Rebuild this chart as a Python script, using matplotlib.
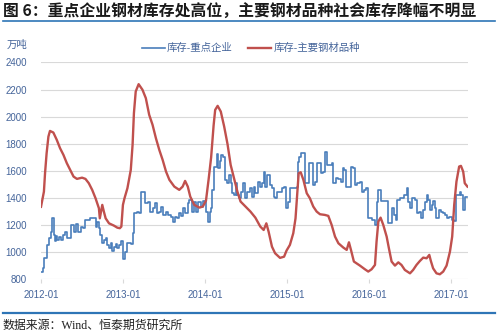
import matplotlib
matplotlib.use("Agg")
import matplotlib.pyplot as plt
import matplotlib.dates as mdates
from matplotlib.lines import Line2D
import pandas as pd

plt.rcParams["font.family"] = ["Liberation Sans", "Noto Sans CJK SC", "DejaVu Sans"]

# 库存-主要钢材品种 (weekly social inventory, 万吨)
social_dates = [
    "2012-01-01", "2012-01-07", "2012-01-14", "2012-01-19", "2012-01-26", "2012-02-03",
    "2012-02-10", "2012-02-25", "2012-03-11", "2012-03-26", "2012-04-10", "2012-04-25",
    "2012-05-10", "2012-05-25", "2012-06-09", "2012-07-02", "2012-07-17", "2012-08-01",
    "2012-08-16", "2012-08-31", "2012-09-15", "2012-09-19", "2012-09-30", "2012-10-07",
    "2012-10-15", "2012-10-30", "2012-11-21", "2012-12-06", "2012-12-17", "2012-12-24",
    "2012-12-31", "2013-01-07", "2013-01-20", "2013-02-04", "2013-02-12", "2013-02-18",
    "2013-02-26", "2013-03-11", "2013-03-28", "2013-04-12", "2013-04-27", "2013-05-12",
    "2013-05-27", "2013-06-11", "2013-06-26", "2013-07-11", "2013-07-26", "2013-08-17",
    "2013-09-08", "2013-09-23", "2013-10-04", "2013-10-16", "2013-10-27", "2013-11-14",
    "2013-12-07", "2013-12-22", "2014-01-05", "2014-01-17", "2014-01-28", "2014-02-08",
    "2014-02-15", "2014-02-26", "2014-03-12", "2014-03-27", "2014-04-11", "2014-04-25",
    "2014-05-10", "2014-05-25", "2014-06-08", "2014-06-30", "2014-07-22", "2014-08-13",
    "2014-09-04", "2014-09-19", "2014-10-01", "2014-10-11", "2014-10-26", "2014-11-09",
    "2014-12-01", "2014-12-19", "2014-12-30", "2015-01-14", "2015-01-29", "2015-02-08",
    "2015-02-15", "2015-02-22", "2015-03-03", "2015-03-15", "2015-03-30", "2015-04-13",
    "2015-04-28", "2015-05-13", "2015-05-28", "2015-06-19", "2015-07-04", "2015-07-19",
    "2015-08-03", "2015-08-18", "2015-09-09", "2015-09-24", "2015-10-04", "2015-10-13",
    "2015-10-26", "2015-11-22", "2015-12-14", "2015-12-29", "2016-01-13", "2016-01-28",
    "2016-02-04", "2016-02-12", "2016-02-22", "2016-03-05", "2016-03-20", "2016-03-30",
    "2016-04-11", "2016-04-26", "2016-05-11", "2016-05-25", "2016-06-09", "2016-07-02",
    "2016-07-16", "2016-07-31", "2016-08-15", "2016-08-30", "2016-09-14", "2016-09-26",
    "2016-10-03", "2016-10-13", "2016-10-28", "2016-11-12", "2016-11-27", "2016-12-12",
    "2016-12-27", "2017-01-06", "2017-01-15", "2017-01-25", "2017-02-06", "2017-02-14",
    "2017-02-24", "2017-03-03", "2017-03-15",
]
social_values = [
    1335, 1386, 1447, 1583, 1730, 1853,
    1895, 1883, 1830, 1767, 1718, 1657,
    1607, 1558, 1541, 1550, 1541, 1509,
    1460, 1398, 1324, 1250, 1349, 1300,
    1250, 1213, 1196, 1181, 1177, 1189,
    1349, 1398, 1472, 1607, 1792, 2026,
    2186, 2240, 2199, 2137, 2014, 1940,
    1841, 1755, 1681, 1595, 1534, 1484,
    1460, 1484, 1526, 1484, 1410, 1349,
    1329, 1337, 1380, 1540, 1700, 1935,
    2050, 2080, 2038, 1928, 1798, 1644,
    1546, 1447, 1374, 1337, 1300, 1255,
    1189, 1164, 1213, 1152, 1041, 992,
    958, 967, 1012, 1054, 1140, 1250,
    1420, 1583, 1590, 1534, 1435, 1398,
    1337, 1300, 1280, 1275, 1268, 1201,
    1115, 1066, 1034, 1017, 1073, 1017,
    931, 901, 874, 857, 874, 906,
    1078, 1226, 1255, 1201, 1115, 1029,
    931, 901, 925, 906, 869, 844,
    869, 906, 935, 960, 955, 980,
    935, 881, 844, 837, 857, 901,
    1004, 1115, 1349, 1521, 1632, 1637,
    1595, 1509, 1484,
]

# 库存-重点企业 (ten-day survey, drawn as steps, 万吨)
key_dates = [
    "2012-01-01", "2012-01-08", "2012-01-16", "2012-01-29", "2012-02-06", "2012-02-15",
    "2012-02-18", "2012-02-27", "2012-03-04", "2012-03-08", "2012-03-14", "2012-03-22",
    "2012-03-31", "2012-04-09", "2012-04-18", "2012-04-25", "2012-05-15", "2012-05-29",
    "2012-06-05", "2012-06-14", "2012-06-26", "2012-07-05", "2012-07-14", "2012-08-08",
    "2012-08-31", "2012-09-07", "2012-09-15", "2012-09-22", "2012-09-30", "2012-10-07",
    "2012-10-15", "2012-10-22", "2012-10-30", "2012-11-06", "2012-11-14", "2012-11-21",
    "2012-11-29", "2012-12-06", "2012-12-14", "2012-12-21", "2012-12-31", "2013-01-10",
    "2013-01-20", "2013-02-04", "2013-02-12", "2013-02-20", "2013-03-04", "2013-03-12",
    "2013-03-21", "2013-04-08", "2013-04-20", "2013-05-02", "2013-05-12", "2013-05-23",
    "2013-05-31", "2013-06-11", "2013-06-18", "2013-06-29", "2013-07-11", "2013-07-21",
    "2013-08-02", "2013-08-13", "2013-08-20", "2013-08-29", "2013-09-08", "2013-09-16",
    "2013-09-23", "2013-10-05", "2013-10-16", "2013-10-23", "2013-11-02", "2013-11-14",
    "2013-11-23", "2013-12-02", "2013-12-14", "2013-12-21", "2014-01-03", "2014-01-13",
    "2014-01-22", "2014-01-27", "2014-02-01", "2014-02-08", "2014-02-23", "2014-03-01",
    "2014-03-09", "2014-03-15", "2014-03-24", "2014-03-30", "2014-04-08", "2014-04-18",
    "2014-04-25", "2014-05-03", "2014-05-10", "2014-05-17", "2014-05-25", "2014-06-01",
    "2014-06-08", "2014-06-20", "2014-06-27", "2014-07-08", "2014-07-19", "2014-07-27",
    "2014-08-06", "2014-08-13", "2014-08-24", "2014-09-01", "2014-09-12", "2014-09-19",
    "2014-09-26", "2014-10-04", "2014-10-18", "2014-10-26", "2014-11-02", "2014-11-09",
    "2014-11-17", "2014-12-08", "2014-12-19", "2014-12-28", "2015-01-07", "2015-01-14",
    "2015-02-13", "2015-02-18", "2015-02-25", "2015-03-03", "2015-03-22", "2015-04-10",
    "2015-04-28", "2015-05-06", "2015-05-13", "2015-05-31", "2015-06-09", "2015-06-19",
    "2015-06-27", "2015-07-19", "2015-07-26", "2015-08-07", "2015-08-18", "2015-08-29",
    "2015-09-06", "2015-09-13", "2015-09-21", "2015-10-11", "2015-10-20", "2015-10-31",
    "2015-11-10", "2015-11-22", "2015-11-29", "2015-12-10", "2015-12-19", "2015-12-26",
    "2016-01-13", "2016-01-28", "2016-02-06", "2016-02-12", "2016-02-24", "2016-03-12",
    "2016-03-26", "2016-04-14", "2016-04-23", "2016-04-29", "2016-05-06", "2016-05-18",
    "2016-05-28", "2016-06-06", "2016-06-17", "2016-06-24", "2016-07-02", "2016-07-12",
    "2016-07-24", "2016-07-31", "2016-08-11", "2016-08-22", "2016-08-30", "2016-09-06",
    "2016-09-14", "2016-09-21", "2016-09-29", "2016-10-06", "2016-10-13", "2016-10-21",
    "2016-10-28", "2016-11-08", "2016-11-17", "2016-11-24", "2016-12-04", "2016-12-12",
    "2016-12-22", "2017-01-03", "2017-01-15", "2017-01-25", "2017-02-09", "2017-02-16",
    "2017-02-24", "2017-03-03", "2017-03-15",
]
key_values = [
    852, 881, 960, 1054, 1103, 1152,
    1250, 1127, 1083, 1122, 1090, 1115,
    1090, 1127, 1147, 1103, 1201, 1152,
    1206, 1152, 1189, 1177, 1238, 1250,
    1189, 1226, 1177, 1127, 1066, 1090,
    1103, 1054, 1029, 1066, 1009, 1041,
    1058, 1034, 1054, 1083, 950, 1003,
    1069, 1064, 1138, 1286, 1298, 1286,
    1447, 1361, 1373, 1298, 1323, 1361,
    1292, 1298, 1336, 1274, 1298, 1274,
    1262, 1225, 1262, 1249, 1286, 1267,
    1323, 1292, 1361, 1385, 1298, 1373,
    1298, 1373, 1337, 1378, 1300, 1220,
    1300, 1324, 1460, 1632, 1723, 1620,
    1674, 1718, 1706, 1534, 1509, 1570,
    1509, 1435, 1423, 1509, 1423, 1398,
    1447, 1509, 1398, 1447, 1477, 1410,
    1484, 1435, 1521, 1484, 1509, 1590,
    1484, 1570, 1497, 1472, 1410, 1398,
    1447, 1472, 1484, 1324, 1374, 1472,
    1484, 1669, 1706, 1735, 1509, 1657,
    1497, 1521, 1657, 1583, 1595, 1743,
    1644, 1657, 1509, 1546, 1541, 1521,
    1620, 1607, 1484, 1632, 1620, 1497,
    1509, 1521, 1442, 1460, 1472, 1250,
    1240, 1201, 1374, 1460, 1380, 1376,
    1213, 1324, 1275, 1238, 1386, 1403,
    1398, 1423, 1472, 1374, 1329, 1398,
    1386, 1287, 1300, 1250, 1312, 1374,
    1423, 1386, 1312, 1349, 1378, 1324,
    1250, 1312, 1300, 1287, 1275, 1250,
    1263, 1238, 1233, 1423, 1442, 1423,
    1312, 1410, 1410,
]

y_ticks = [800, 1000, 1200, 1400, 1600, 1800, 2000, 2200, 2400]
year_ticks = ["2012-01-01", "2013-01-01", "2014-01-01", "2015-01-01", "2016-01-01", "2017-01-01"]

TICK_COLOR = "#44649A"
BLUE = "#4A7EBB"
RED = "#C0504D"
FRAME_BLUE = "#2E75B6"

fig = plt.figure(figsize=(4.97, 3.34), dpi=100)
ax = fig.add_axes([0.0825, 0.1638, 0.8594, 0.6491])

ax.plot(pd.to_datetime(key_dates), key_values, color=BLUE, linewidth=1.2,
        drawstyle="steps-post", label="库存-重点企业")
ax.plot(pd.to_datetime(social_dates), social_values, color=RED, linewidth=1.7,
        label="库存-主要钢材品种")

ax.set_ylim(800, 2400)
ax.set_yticks(y_ticks)
ax.set_xlim(pd.Timestamp("2012-01-01"), pd.Timestamp("2017-03-18"))
ax.set_xticks(pd.to_datetime(year_ticks))
ax.xaxis.set_major_formatter(mdates.DateFormatter("%Y-%m"))

for s in ax.spines.values():
    s.set_visible(False)
ax.grid(axis="y", color="#D9D9D9", linewidth=0.8)
ax.set_axisbelow(True)
ax.tick_params(axis="y", length=0, pad=10, labelsize=7, labelcolor=TICK_COLOR)
ax.tick_params(axis="x", length=3, width=0.8, color="#D9D9D9", pad=5,
               labelsize=7, labelcolor=TICK_COLOR)

fig.legend(loc="center", bbox_to_anchor=(0.505, 0.856), ncol=2, frameon=False,
           fontsize=7.5, handlelength=2.2, handletextpad=0.2, columnspacing=1.5,
           labelcolor=TICK_COLOR)

fig.text(0.014, 0.866, "万吨", fontsize=7.5, color=TICK_COLOR, va="center")

# header and footer
fig.text(0.006, 0.964, "图 6：重点企业钢材库存处高位，主要钢材品种社会库存降幅不明显",
         fontsize=11.4, fontweight="bold", color="#1A1A1A", va="center",
         family=["Noto Sans CJK SC", "DejaVu Sans"])
fig.add_artist(Line2D([0.006, 0.996], [0.936, 0.936], color=FRAME_BLUE, linewidth=1.2))
fig.add_artist(Line2D([0.006, 0.996], [0.062, 0.062], color=FRAME_BLUE, linewidth=1.6))
fig.text(0.006, 0.024, "数据来源：Wind、恒泰期货研究所", fontsize=8.6, color="#222222",
         va="center", family=["Liberation Serif", "Noto Sans CJK SC"])

fig.savefig("out.png", dpi=100)
